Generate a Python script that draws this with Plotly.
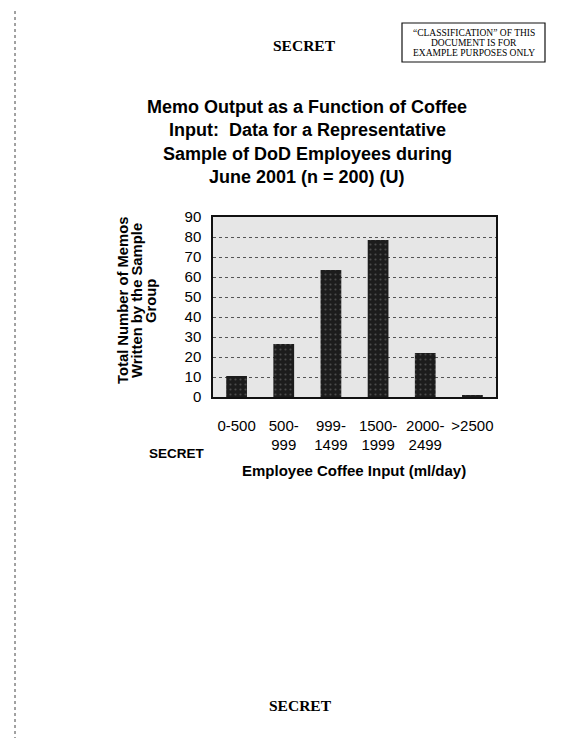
import plotly.graph_objects as go

categories = ["0-500", "500-999", "999-1499", "1500-1999", "2000-2499", ">2500"]
tick_labels = ["0-500", "500-<br>999", "999-<br>1499", "1500-<br>1999", "2000-<br>2499", ">2500"]
memos = [10.5, 26.5, 63.5, 78.5, 22, 1]
y_ticks = [0, 10, 20, 30, 40, 50, 60, 70, 80, 90]

title_lines = ["Memo Output as a Function of Coffee",
               "Input:  Data for a Representative",
               "Sample of DoD Employees during",
               "June 2001 (n = 200) (U)"]
ytitle_lines = ["Total Number of Memos", "Written by the Sample", "Group"]
xtitle = "Employee Coffee Input (ml/day)"
box_lines = ["\u201cCLASSIFICATION\u201d OF THIS", "DOCUMENT IS FOR", "EXAMPLE PURPOSES ONLY"]

SANS = "Liberation Sans, Arial, sans-serif"
SERIF = "Liberation Serif, Times New Roman, serif"

# page body has an 8px margin; figure is sized to fit the window
FW, FH = 563, 730
PL, PR, PT, PB = 213, 496, 217, 397   # plot area in screen pixels


def px(x):
    return (x - PL) / (PR - PL)


def py(y):
    return (PB - y) / (PB - PT)


fig = go.Figure()
fig.add_trace(go.Bar(
    x=categories, y=memos,
    marker=dict(color="#1c1c1c", line=dict(width=0),
                pattern=dict(shape=".", fgcolor="#7a7a7a", size=5, solidity=0.15)),
    width=0.44,
))

fig.update_layout(
    width=FW, height=FH,
    margin=dict(l=PL - 8, r=FW - (PR - 8), t=PT - 8, b=FH - (PB - 8)),
    paper_bgcolor="white",
    plot_bgcolor="#e6e6e6",
    showlegend=False,
    font=dict(family=SANS, color="black"),
    xaxis=dict(
        tickmode="array", tickvals=categories, ticktext=tick_labels,
        tickfont=dict(size=15, family=SANS), showgrid=False,
        showline=True, linecolor="#111", linewidth=1.5, mirror=True,
        ticks="", ticklabelstandoff=14,
    ),
    yaxis=dict(
        range=[0, 90], tickvals=y_ticks, tickfont=dict(size=15, family=SANS),
        showgrid=True, gridcolor="#555", griddash="dot", gridwidth=1,
        showline=True, linecolor="#111", linewidth=1.5, mirror=True,
        ticks="", ticklabelstandoff=7, zeroline=False,
    ),
)


def ann(text, x, y, size, family=SANS, bold=True, angle=0):
    fig.add_annotation(text=f"<b>{text}</b>" if bold else text,
                       xref="paper", yref="paper", x=px(x), y=py(y),
                       xanchor="center", yanchor="middle", showarrow=False,
                       textangle=angle,
                       font=dict(family=family, size=size, color="black"))


# Title
for i, line in enumerate(title_lines):
    ann(line, 307, 107 + i * 23.5, 18)

# Y axis title
for i, line in enumerate(ytitle_lines):
    ann(line, 123 + i * 14, 301, 14.8, angle=-90)

# X axis title
ann(xtitle, 354, 470, 15)

# Page decorations
fig.add_shape(type="line", xref="paper", yref="paper", x0=px(14), x1=px(565), y0=py(5), y1=py(5),
              line=dict(color="#777", width=1))
fig.add_shape(type="line", xref="paper", yref="paper", x0=px(15), x1=px(15), y0=py(5), y1=py(738),
              line=dict(color="#444", width=1, dash="dot"))
fig.add_shape(type="rect", xref="paper", yref="paper", x0=px(402), x1=px(545), y0=py(23), y1=py(62),
              line=dict(color="#111", width=1.2), fillcolor="white")
for i, line in enumerate(box_lines):
    ann(line, 473.5, 33 + i * 10.2, 9.5, family=SERIF, bold=False)

ann("SECRET", 304, 45, 15.5, family=SERIF)
ann("SECRET", 300, 705, 15.5, family=SERIF)
ann("SECRET", 177, 453, 13.5)

fig.write_html("out.html")
